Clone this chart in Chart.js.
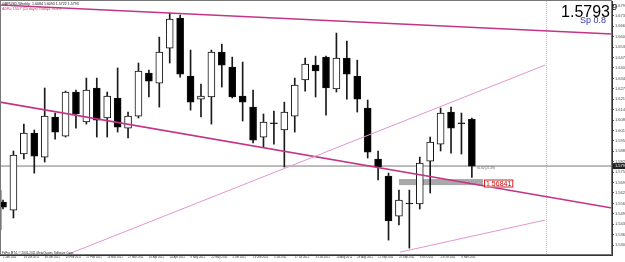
<!DOCTYPE html>
<html>
<head>
<meta charset="utf-8">
<script src="https://cdn.jsdelivr.net/npm/chart.js@4.4.1/dist/chart.umd.min.js"></script>
<style>
  html, body { margin: 0; padding: 0; background: #fff; }
  #wrap { width: 625px; height: 262px; }
</style>
</head>
<body>
<div id="wrap"><canvas id="myChart" width="625" height="262"></canvas></div>
<script>
// weekly candles, GBPUSD 2011 (index 0 = week of 2 Jan 2011)
const opens = [1.5568, 1.5518, 1.5868, 1.5999, 1.5849, 1.6099, 1.5980, 1.6255, 1.6068, 1.6280,
  1.6093, 1.6217, 1.6030, 1.6105, 1.6373, 1.6311, 1.6529, 1.6717, 1.6355, 1.6211,
  1.6224, 1.6504, 1.6411, 1.6230, 1.6161, 1.5974, 1.6061, 1.6018, 1.6105, 1.6330,
  1.6423, 1.6473, 1.6274, 1.6467, 1.6355, 1.6155, 1.5837, 1.5731, 1.5481, 1.5556,
  1.5556, 1.5824, 1.5930, 1.6130, 1.6061, 1.6084];
const highs = [1.5581, 1.5887, 1.6055, 1.6018, 1.6280, 1.6124, 1.6261, 1.6267, 1.6342, 1.6342,
  1.6255, 1.6405, 1.6130, 1.6436, 1.6392, 1.6598, 1.6748, 1.6735, 1.6517, 1.6305,
  1.6517, 1.6554, 1.6473, 1.6442, 1.6267, 1.6118, 1.6136, 1.6192, 1.6342, 1.6467,
  1.6479, 1.6479, 1.6623, 1.6573, 1.6454, 1.6205, 1.5887, 1.5749, 1.5643, 1.5643,
  1.5849, 1.5974, 1.6155, 1.6161, 1.6124, 1.6093];
const lows = [1.5525, 1.5469, 1.5837, 1.5749, 1.5818, 1.5961, 1.5974, 1.6030, 1.6055, 1.5974,
  1.5974, 1.6005, 1.5968, 1.6093, 1.6224, 1.6161, 1.6436, 1.6348, 1.6142, 1.6099,
  1.6055, 1.6286, 1.6218, 1.6074, 1.5937, 1.5912, 1.5930, 1.5787, 1.6005, 1.6261,
  1.6224, 1.6111, 1.6255, 1.6211, 1.6130, 1.5843, 1.5706, 1.5331, 1.5425, 1.5281,
  1.5525, 1.5625, 1.5887, 1.5874, 1.5868, 1.5722];
const closes = [1.5537, 1.5862, 1.5999, 1.5855, 1.6105, 1.6005, 1.6255, 1.6118, 1.6267, 1.6080,
  1.6230, 1.6036, 1.6105, 1.6386, 1.6323, 1.6504, 1.6710, 1.6367, 1.6192, 1.6230,
  1.6504, 1.6423, 1.6224, 1.6192, 1.5955, 1.6068, 1.6057, 1.6130, 1.6298, 1.6430,
  1.6386, 1.6280, 1.6467, 1.6367, 1.6211, 1.5880, 1.5787, 1.5450, 1.5581, 1.5560,
  1.5812, 1.5943, 1.6124, 1.6030, 1.6057, 1.5793];

const dateLabels = ["2 Jan 2011", "16 Jan 2011", "30 Jan 2011", "13 Feb 2011", "27 Feb 2011",
  "13 Mar 2011", "27 Mar 2011", "10 Apr 2011", "24 Apr 2011", "8 May 2011", "22 May 2011",
  "5 Jun 2011", "19 Jun 2011", "3 Jul 2011", "17 Jul 2011", "31 Jul 2011", "14 Aug 2011",
  "28 Aug 2011", "11 Sep 2011", "25 Sep 2011", "9 Oct 2011", "23 Oct 2011", "6 Nov 2011"];
const dateTicks = [0, 2, 4, 6, 8, 10, 12, 14, 16, 18, 20, 22, 24, 26, 28, 30, 32, 34, 36, 38, 40, 42, 44];
const priceTicks = [1.6795, 1.6730, 1.6665, 1.6600, 1.6535, 1.6470, 1.6405, 1.6340, 1.6275,
  1.6210, 1.6145, 1.6080, 1.6015, 1.5950, 1.5885, 1.5820, 1.5755, 1.5690, 1.5625, 1.5560,
  1.5495, 1.5430, 1.5365, 1.5300];

// objects drawn on the chart: [bar index, price]
const trendTop = [[-0.29, 1.6798], [58.45, 1.6617]];
const trendMid = [[-0.29, 1.6192], [58.45, 1.5531]];
const channelUp = [[6.05, 1.5238], [52.02, 1.6423]];
const channelLow = [[38.1, 1.5256], [52.02, 1.5456]];
const bidPrice = 1.5793;
const levelPrice = 1.56841;
const boxFrom = [38.0, -0.6];
const boxTo = [46.07, -0.1];
const boxTop = [1.5712, 1.5643];
const boxBottom = [1.5674, 1.5394];
const separatorAt = 52.1;

const xMin = -0.29, xMax = 58.45;
const yMin = 1.5238, yMax = 1.6823;
const family = "'Liberation Sans', Arial, sans-serif";

const idx = opens.map((_, i) => i);
const isDoji = idx.map(i => Math.abs(closes[i] - opens[i]) < 0.0006);
const bodyColors = idx.map(i => (closes[i] > opens[i] && !isDoji[i]) ? "#ffffff" : "#000000");
const toPts = arr => arr.map(p => ({ x: p[0], y: p[1] }));

const overlay = {
  id: "overlay",
  beforeDatasetsDraw(chart) {
    const { ctx, chartArea: a, scales: { x, y } } = chart;
    ctx.save();
    ctx.beginPath();
    ctx.rect(a.left, a.top, a.right - a.left, a.bottom - a.top);
    ctx.clip();
    ctx.fillStyle = "#a9a9a9";
    boxFrom.forEach((b, i) => {
      const x0 = x.getPixelForValue(b), x1 = x.getPixelForValue(boxTo[i]);
      const y0 = y.getPixelForValue(boxTop[i]), y1 = y.getPixelForValue(boxBottom[i]);
      ctx.fillRect(x0, y0, x1 - x0, y1 - y0);
    });
    // period separator
    const sx = Math.round(x.getPixelForValue(separatorAt)) + 0.5;
    ctx.strokeStyle = "#c4c4c4";
    ctx.lineWidth = 1;
    ctx.setLineDash([1, 1]);
    ctx.beginPath();
    ctx.moveTo(sx, a.top);
    ctx.lineTo(sx, a.bottom);
    ctx.stroke();
    ctx.restore();
  },
  afterDraw(chart) {
    const { ctx, chartArea: a, scales: { x, y } } = chart;
    ctx.save();
    // frame
    ctx.strokeStyle = "#777";
    ctx.lineWidth = 1;
    ctx.strokeRect(a.left + 0.5, a.top - 0.5, a.right - a.left - 1, a.bottom - a.top);

    // level label
    const ly = y.getPixelForValue(levelPrice);
    const lx = x.getPixelForValue(boxTo[0]) + 1;
    ctx.font = "7px " + family;
    const lw = ctx.measureText("1.56841").width + 3;
    ctx.fillStyle = "#fff";
    ctx.fillRect(lx, ly - 4, lw, 8);
    ctx.strokeStyle = "#d02020";
    ctx.strokeRect(lx + 0.5, ly - 3.5, lw, 7);
    ctx.fillStyle = "#d00000";
    ctx.textBaseline = "middle";
    ctx.fillText("1.56841", lx + 2, ly + 0.5);

    // bid label on the price axis
    const by = y.getPixelForValue(bidPrice);
    ctx.fillStyle = "#222";
    ctx.fillRect(a.right + 1, by - 3, 625 - a.right, 6);
    ctx.fillStyle = "#fff";
    ctx.font = "4px " + family;
    ctx.fillText(bidPrice.toFixed(4), a.right + 3, by);

    // small note by the last bar
    ctx.fillStyle = "#555";
    ctx.font = "3px " + family;
    ctx.fillText("<0.00 (21:29)", x.getPixelForValue(45) + 5, by + 2);

    // header
    ctx.textBaseline = "alphabetic";
    ctx.fillStyle = "#111";
    ctx.font = "3.6px " + family;
    ctx.fillText("GBPUSD,Weekly  1.6084 1.6093 1.5722 1.5793", 2, 5);
    ctx.fillStyle = "#d0306a";
    ctx.fillText("ADR= 150.7 (20 days) Today= 74.4%", 2, 10);

    // copyright
    ctx.fillStyle = "#222";
    ctx.font = "3px " + family;
    ctx.fillText("FxPro MT4, \u00a9 2001-2011 MetaQuotes Software Corp.", 2, 254);

    // big price
    ctx.fillStyle = "#000";
    ctx.font = "16px " + family;
    ctx.textAlign = "right";
    ctx.fillText("1.5793", 610, 17);
    ctx.textAlign = "left";
    ctx.font = "9px " + family;
    ctx.fillText("9", 612, 10);
    ctx.fillStyle = "#3236a8";
    ctx.fillText("Sp 0.8", 580, 23);
    ctx.restore();
  }
};

new Chart(document.getElementById("myChart"), {
  type: "bar",
  data: {
    datasets: [
      {
        type: "line",
        data: [{ x: xMin, y: bidPrice }, { x: xMax, y: bidPrice }],
        borderColor: "#7a7a7a",
        borderWidth: 1,
        pointRadius: 0,
        order: 5
      },
      {
        data: idx.map(i => ({ x: i, y: [lows[i], highs[i]] })),
        backgroundColor: "#1a1a1a",
        borderWidth: 0,
        barThickness: 1,
        grouped: false,
        order: 3
      },
      {
        data: idx.map(i => ({ x: i, y: [opens[i], closes[i]] })),
        backgroundColor: bodyColors,
        borderColor: "#111",
        borderWidth: 1,
        borderSkipped: false,
        barThickness: 7,
        minBarLength: 1,
        grouped: false,
        order: 2
      },
      {
        type: "line",
        data: toPts(channelUp),
        borderColor: "rgb(226,150,206)",
        borderWidth: 1,
        pointRadius: 0,
        order: 1
      },
      {
        type: "line",
        data: toPts(channelLow),
        borderColor: "rgb(226,150,206)",
        borderWidth: 1,
        pointRadius: 0,
        order: 1
      },
      {
        type: "line",
        data: toPts(trendTop),
        borderColor: "rgb(196,52,134)",
        borderWidth: 1.6,
        pointRadius: 0,
        order: 1
      },
      {
        type: "line",
        data: toPts(trendMid),
        borderColor: "rgb(196,52,134)",
        borderWidth: 1.6,
        pointRadius: 0,
        order: 1
      }
    ]
  },
  options: {
    responsive: false,
    animation: false,
    layout: { padding: { left: 0, top: 1, right: 0, bottom: 0 } },
    plugins: { legend: { display: false }, tooltip: { enabled: false } },
    scales: {
      x: {
        type: "linear",
        min: xMin,
        max: xMax,
        offset: false,
        grid: { drawOnChartArea: false, tickLength: 1, color: "#555" },
        border: { display: true, color: "#333" },
        afterBuildTicks: s => { s.ticks = dateTicks.map(v => ({ value: v })); },
        afterFit: s => { s.height = 7; s.paddingLeft = 0; s.paddingRight = 0; },
        ticks: {
          autoSkip: false,
          maxRotation: 0,
          align: "start",
          padding: 0,
          color: "#333",
          font: { size: 2.8, family: family },
          callback: (v, i) => dateLabels[i]
        }
      },
      y: {
        position: "right",
        min: yMin,
        max: yMax,
        grid: { drawOnChartArea: false, tickLength: 2, color: "#555" },
        border: { display: true, color: "#333" },
        afterBuildTicks: s => { s.ticks = priceTicks.map(v => ({ value: v })); },
        afterFit: s => { s.width = 13; s.paddingTop = 0; s.paddingBottom = 0; },
        ticks: {
          autoSkip: false,
          padding: 1,
          color: "#444",
          font: { size: 4, family: family },
          callback: v => v.toFixed(4)
        }
      }
    }
  },
  plugins: [overlay]
});
</script>
</body>
</html>
